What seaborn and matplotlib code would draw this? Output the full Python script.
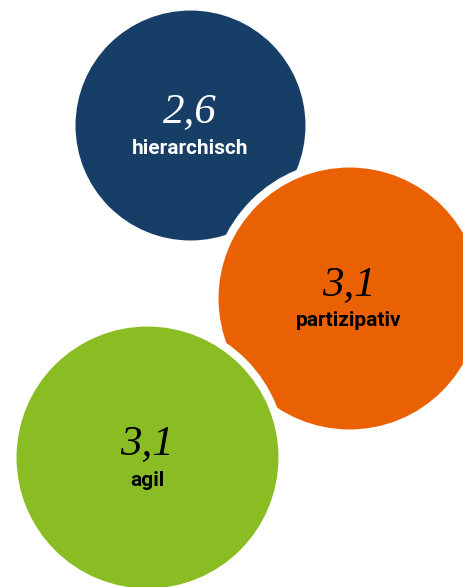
import numpy as np
import pandas as pd
import matplotlib
matplotlib.use('Agg')
import matplotlib.pyplot as plt
import seaborn as sns

# data
labels = ['hierarchisch', 'partizipativ', 'agil']
values = [2.6, 3.1, 3.1]

# layout (pixel positions of the bubbles, figure is 463x587 px)
bubble_x = [190, 349, 147]
bubble_y = [125, 298, 457]
colors = ['#163E66', '#EA6103', '#8ABD24']
text_colors = ['white', 'black', 'black']

df = pd.DataFrame({'label': labels, 'value': values, 'x': bubble_x, 'y': bubble_y})

sns.set_style('white')
plt.rcParams['font.family'] = ['DejaVu Sans']

fig = plt.figure(figsize=(4.63, 5.87), dpi=100)
ax = fig.add_axes([0, 0, 1, 1])

# marker sizes (points^2) for the smallest / largest value
sizes = (29370, 37791)

for i, row in df.iterrows():
    sns.scatterplot(data=df.iloc[[i]], x='x', y='y', size='value',
                    sizes=sizes, size_norm=(min(values), max(values)),
                    color=colors[i], edgecolor='white', linewidth=5.8,
                    legend=False, ax=ax, zorder=2 + i)
    val = ('%.1f' % row['value']).replace('.', ',')
    ax.text(row['x'], row['y'] - 13, val, ha='center', va='center',
            fontsize=31, style='italic', family=['Liberation Serif', 'DejaVu Serif'],
            color=text_colors[i], zorder=10)
    ax.text(row['x'], row['y'] + 23, row['label'], ha='center', va='center',
            fontsize=15, fontweight='bold', fontstretch='condensed',
            family=['Roboto', 'DejaVu Sans'],
            color=text_colors[i], zorder=10)

ax.set_xlim(0, 463)
ax.set_ylim(587, 0)
ax.set_axis_off()

plt.savefig('out.png', dpi=100)
